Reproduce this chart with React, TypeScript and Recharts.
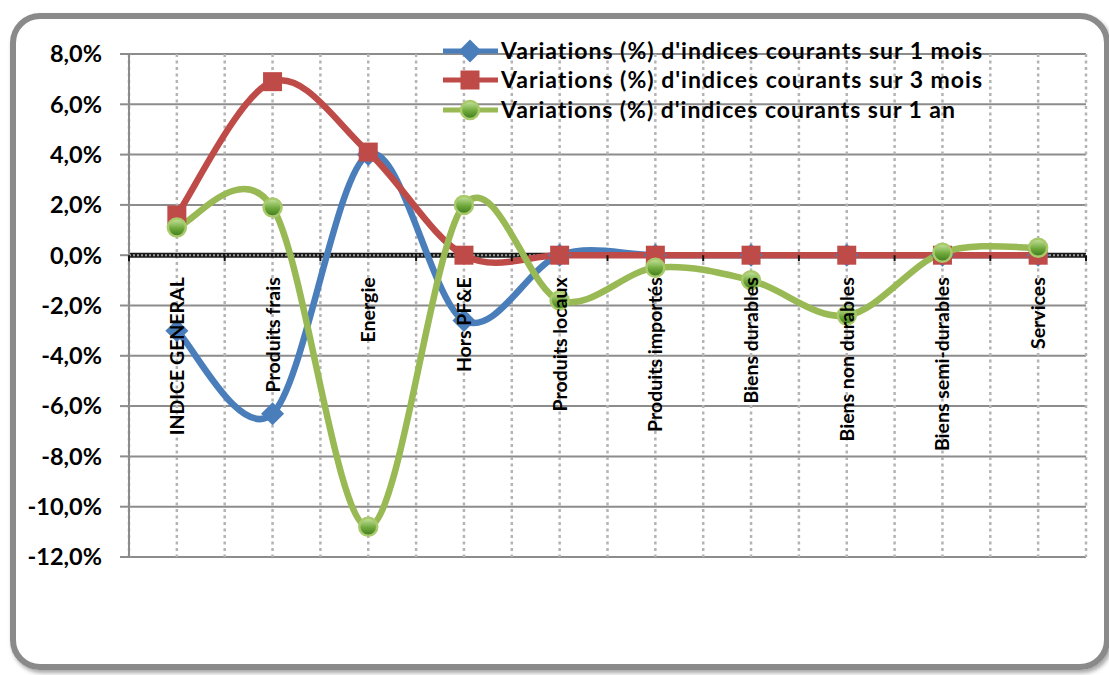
import React from "react"
import { LineChart, Line, XAxis, YAxis, CartesianGrid, ReferenceLine } from "recharts"

const categories = [
  "INDICE GENERAL",
  "Produits frais",
  "Energie",
  "Hors PF&E",
  "Produits locaux",
  "Produits importés",
  "Biens durables",
  "Biens non durables",
  "Biens semi-durables",
  "Services",
]
const mois1 = [-3.0, -6.3, 4.0, -2.6, 0, 0, 0, 0, 0, 0]
const mois3 = [1.6, 6.9, 4.1, 0, 0, 0, 0, 0, 0, 0]
const an1 = [1.1, 1.9, -10.8, 2.0, -1.8, -0.5, -1.0, -2.4, 0.1, 0.3]
const yTicks = [-12, -10, -8, -6, -4, -2, 0, 2, 4, 6, 8]
const seriesNames = [
  "Variations (%) d'indices courants sur 1 mois",
  "Variations (%) d'indices courants sur 3 mois",
  "Variations (%) d'indices courants sur 1 an",
]

const data = categories.map((name, i) => ({ name, m1: mois1[i], m3: mois3[i], a1: an1[i] }))

const BLUE = "#4a7ebb"
const RED = "#be4b48"
const GREEN = "#98b954"
const FONT = "Lato, 'Open Sans', sans-serif"
const NO_LIGA = { fontVariantLigatures: "none" as const, fontFeatureSettings: "'liga' 0, 'dlig' 0" }

const W = 1109
const H = 675
const M = { top: 54, right: 23, bottom: 117, left: 0 }
const Y_AXIS_W = 129
const PLOT_W = W - M.left - M.right - Y_AXIS_W
const PLOT_H = H - M.top - M.bottom - 1
const Y_MIN = -12
const Y_MAX = 8
const ZERO_Y = M.top + (PLOT_H * (Y_MAX - 0)) / (Y_MAX - Y_MIN)
const STEP = PLOT_W / categories.length

// Excel-like smoothing (Catmull-Rom through the points)
function excelSmooth(context: any) {
  let pts: number[][] = []
  return {
    areaStart() {},
    areaEnd() {},
    lineStart() {
      pts = []
    },
    point(x: number, y: number) {
      pts.push([+x, +y])
    },
    lineEnd() {
      const n = pts.length
      if (!n) return
      context.moveTo(pts[0][0], pts[0][1])
      for (let i = 0; i < n - 1; i++) {
        const p0 = pts[i - 1] || pts[i]
        const p1 = pts[i]
        const p2 = pts[i + 1]
        const p3 = pts[i + 2] || p2
        context.bezierCurveTo(
          p1[0] + (p2[0] - p0[0]) / 6,
          p1[1] + (p2[1] - p0[1]) / 6,
          p2[0] - (p3[0] - p1[0]) / 6,
          p2[1] - (p3[1] - p1[1]) / 6,
          p2[0],
          p2[1]
        )
      }
    },
  }
}

const Diamond = ({ cx, cy, r = 11.5 }: any) => (
  <path d={`M${cx},${cy - r}L${cx + r},${cy}L${cx},${cy + r}L${cx - r},${cy}Z`} fill={BLUE} />
)
const Square = ({ cx, cy, s = 19 }: any) => (
  <rect x={cx - s / 2} y={cy - s / 2} width={s} height={s} fill={RED} />
)
const Ball = ({ cx, cy, r = 9, grad = "ballGrad" }: any) => (
  <circle cx={cx} cy={cy} r={r} fill={`url(#${grad})`} stroke="#a9c96b" strokeWidth={2.5} />
)

const dotFn = (Shape: any) => (p: any) => <Shape key={`${p.dataKey}-${p.index}`} cx={p.cx} cy={p.cy} />

const XTick = (props: any) => {
  const { x, payload, index } = props
  return (
    <g>
      <line x1={x - STEP / 2} x2={x - STEP / 2} y1={ZERO_Y} y2={ZERO_Y + 6} stroke="#111" strokeWidth={2} />
      {index === categories.length - 1 && (
        <line x1={x + STEP / 2} x2={x + STEP / 2} y1={ZERO_Y} y2={ZERO_Y + 6} stroke="#111" strokeWidth={2} />
      )}
      <text
        transform={`translate(${x + 7},${ZERO_Y + 22}) rotate(-90)`}
        textAnchor="end"
        fontFamily={FONT}
        fontWeight="bold"
        fontSize={19.5}
        fill="#000"
        style={NO_LIGA}
      >
        {payload.value}
      </text>
    </g>
  )
}

const legendRows = [
  { name: seriesNames[0], Shape: Diamond, color: BLUE, y: 51, len: 481 },
  { name: seriesNames[1], Shape: Square, color: RED, y: 80, len: 481 },
  { name: seriesNames[2], Shape: Ball, color: GREEN, y: 110, len: 454 },
]

const LegendBox = () => (
  <svg width={W} height={140} style={{ position: "absolute", left: 0, top: 0 }}>
    <defs>
      <linearGradient id="ballGradL" x1="0" y1="0" x2="0" y2="1">
        <stop offset="0%" stopColor="#c9e6a1" />
        <stop offset="55%" stopColor="#6fa83a" />
        <stop offset="100%" stopColor="#3b7a1e" />
      </linearGradient>
    </defs>
    {legendRows.map((r, i) => (
      <g key={i}>
        <line x1={443} x2={498} y1={r.y} y2={r.y} stroke={r.color} strokeWidth={5} />
        <r.Shape cx={470} cy={r.y} grad="ballGradL" />
        <text
          x={501}
          y={r.y + 8}
          fontFamily={FONT}
          fontWeight="bold"
          fontSize={23}
          fill="#000"
          textLength={r.len}
          lengthAdjust="spacing"
          style={NO_LIGA}
        >
          {r.name}
        </text>
      </g>
    ))}
  </svg>
)

export default function App() {
  return (
    <div style={{ position: "absolute", left: 0, top: 0, width: W, height: H, background: "#fff", overflow: "hidden" }}>
      <div
        style={{
          position: "absolute",
          left: 10,
          top: 13,
          width: 1100,
          height: 657,
          border: "6px solid #8a8a8a",
          borderRadius: 30,
          boxSizing: "border-box",
          boxShadow: "2px 3px 4px rgba(0,0,0,0.35)",
        }}
      />
      <div style={{ position: "absolute", left: 0, top: 0 }}>
        <LineChart width={W} height={H} data={data} margin={M}>
          <defs>
            <linearGradient id="ballGrad" x1="0" y1="0" x2="0" y2="1">
              <stop offset="0%" stopColor="#c9e6a1" />
              <stop offset="55%" stopColor="#6fa83a" />
              <stop offset="100%" stopColor="#3b7a1e" />
            </linearGradient>
          </defs>
          <CartesianGrid vertical={false} stroke="#8c8c8c" strokeWidth={2} />
          <CartesianGrid
            horizontal={false}
            stroke="#b4b4b4"
            strokeWidth={2.5}
            strokeDasharray="3 3.5"
            verticalCoordinatesGenerator={({ offset }: any) =>
              Array.from({ length: categories.length * 2 + 1 }, (_, i) => offset.left + (i * offset.width) / (categories.length * 2))
            }
          />
          <XAxis
            dataKey="name"
            interval={0}
            height={1}
            padding={{ left: STEP / 2, right: STEP / 2 }}
            axisLine={false}
            tickLine={false}
            tick={<XTick />}
          />
          <YAxis
            domain={[Y_MIN, Y_MAX]}
            ticks={yTicks}
            interval={0}
            width={Y_AXIS_W}
            axisLine={{ stroke: "#8c8c8c", strokeWidth: 2 }}
            tickLine={{ stroke: "#8c8c8c", strokeWidth: 2 }}
            tickSize={9}
            tickMargin={18}
            tickFormatter={(v: number) => v.toFixed(1).replace(".", ",") + "%"}
            tick={{ fill: "#000", fontFamily: FONT, fontWeight: "bold", fontSize: 23.5 }}
          />
          <ReferenceLine y={0} stroke="#1a1a1a" strokeWidth={5} />
          <ReferenceLine y={0} stroke="#9a9a9a" strokeWidth={2} strokeDasharray="2 2" />
          <Line
            dataKey="m1"
            type={excelSmooth as any}
            stroke={BLUE}
            strokeWidth={6.5}
            dot={dotFn(Diamond)}
            activeDot={false}
            isAnimationActive={false}
          />
          <Line
            dataKey="m3"
            type={excelSmooth as any}
            stroke={RED}
            strokeWidth={6.5}
            dot={dotFn(Square)}
            activeDot={false}
            isAnimationActive={false}
          />
          <Line
            dataKey="a1"
            type={excelSmooth as any}
            stroke={GREEN}
            strokeWidth={6.5}
            dot={dotFn(Ball)}
            activeDot={false}
            isAnimationActive={false}
          />
        </LineChart>
      </div>
      <LegendBox />
    </div>
  )
}
